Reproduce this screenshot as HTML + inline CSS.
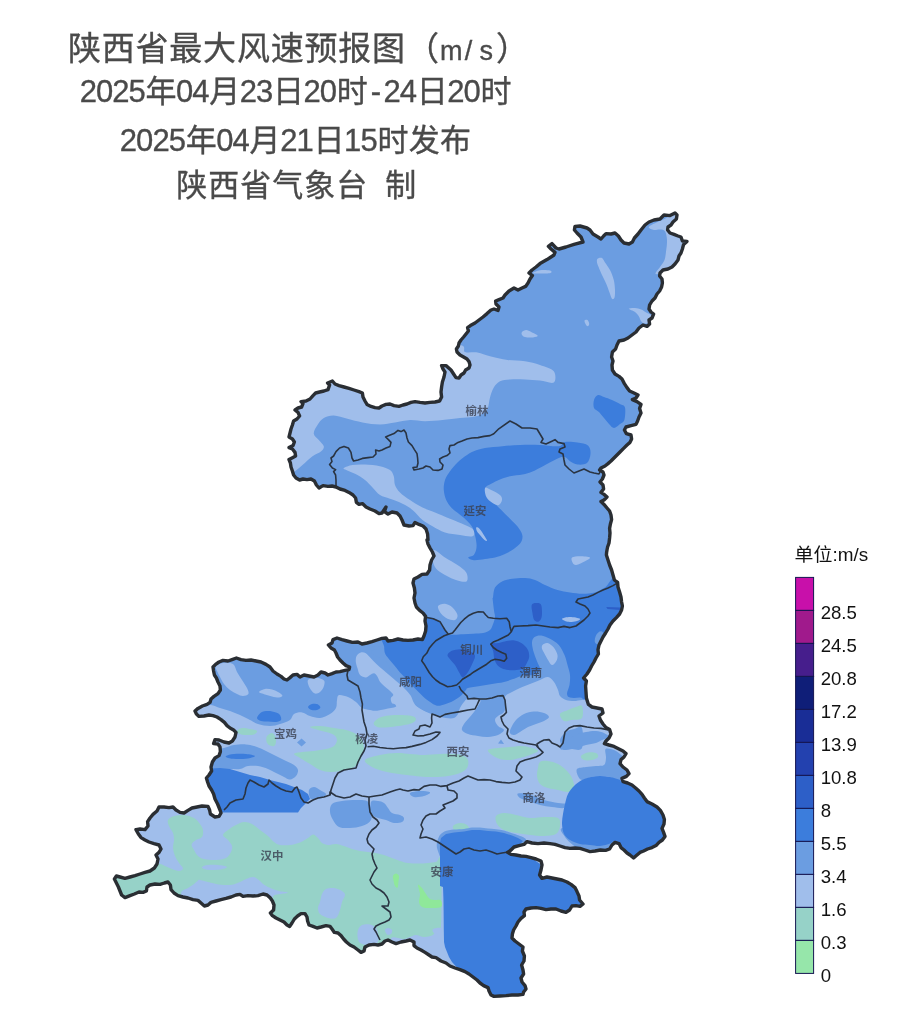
<!DOCTYPE html>
<html lang="zh"><head><meta charset="utf-8"><title>陕西省最大风速预报图</title>
<style>
html,body{margin:0;padding:0;background:#fff;}
svg{display:block}
text{font-family:"Liberation Sans","Noto Sans CJK SC",sans-serif;}
.t{font-size:30px;fill:#4a4a4a;stroke:#4a4a4a;stroke-width:0.35px;}
.lg{font-size:18.6px;fill:#111;}
.city{font-size:11.4px;fill:#3a4050;fill-opacity:0.8;font-weight:bold}
</style></head><body>
<svg width="900" height="1020" viewBox="0 0 900 1020">
<rect width="900" height="1020" fill="#fff"/>
<text class="t" style="font-size:33px" y="59.5" x="67.9 101.7 135.5 169.3 203.1 236.9 270.7 304.5 338.3 372.1 405.9">陕西省最大风速预报图（<tspan style="font-size:27px" x="440.0 464.7 479.6">m/s</tspan><tspan x="496.1">）</tspan></text>
<text class="t" style="font-size:31px" y="102.2" x="79.8 96.1 112.3 128.6 145.4 176.1 192.3 209.2 239.8 256.1 272.9 303.6 319.8 336.7 370.8 383.6 399.8 416.7 447.3 463.6 480.4">2025年04月23日20时-24日20时</text>
<text class="t" style="font-size:31px" y="151.3" x="119.8 136.1 152.4 168.7 185.7 216.3 232.6 249.6 280.2 296.5 313.5 344.1 360.4 377.4 408.7 440.0">2025年04月21日15时发布</text>
<text class="t" style="font-size:31px" y="196" x="176.3 208.3 240.3 272.3 304.3 336.3 372.0 385.3">陕西省气象台 制</text>
<defs><clipPath id="prov"><path d="M547,259.6 L551,257 L554,255 L555,252.4 L551,249 L548.4,246.4 L552,243.6 L556,248 L559,249 L566,247 L574,244.4 L583,242 L581,237 L577,233 L574.4,230 L575,226.4 L580,226 L587,228 L590,230 L593,234 L598,237 L601,239 L603.6,236 L606,233.6 L611,234 L615,233 L618.4,236 L621,240 L624,243 L629,244 L632.4,242 L634.4,238 L638,234 L641,230 L645,225 L649,222 L654,220 L660,219 L664,215 L670,215.6 L675,213 L677,215 L676.4,219 L673,222 L671,225 L668,227 L667.6,230 L670,233 L674,234.4 L678,236 L681,237 L682.4,241 L687,241.4 L683.6,244.4 L682.4,249 L681,253 L679,256 L678,260 L675,264 L672,267 L668,269 L663,270 L660,273 L659.6,276 L662,279 L662.4,283 L661.6,287 L659.6,291 L657,294 L655,298 L652,301 L649.6,305 L649,309 L651,312 L653.6,314 L652,318 L649,320 L649.6,324 L647,326.4 L643,325 L639,328 L636,332 L632,335 L628,338 L624,340 L619,341 L617,345 L615.6,349 L612.4,352 L611.6,357 L613,361 L612,365 L612.4,370 L615,374 L619,376.4 L622,379 L624.4,383.6 L627,387.6 L629.6,391 L634,393 L638,395 L636,398 L632.4,399.6 L637,401.6 L641,404.4 L639.6,408.4 L641,413 L639,417 L637.6,421 L636,424.4 L631,425.6 L626,427 L624.4,430 L626.4,433.6 L631,435 L631.6,439 L630,442.4 L627,445 L623.6,448.4 L620,452 L617,455 L614,458 L611,461 L608,463.6 L605,466 L601,468 L599.6,470 L603,472 L604,475 L602.4,479 L600,482 L603,485 L603.6,489 L601,492.4 L604,494.4 L607,497 L604,500 L601,501.6 L604,504.4 L607,508 L609.6,511 L611,515 L611.6,519.6 L610.4,524 L609.6,528.4 L610,533 L609.6,538 L609,543 L607.6,547 L607,550 L606.6,552.4 L606.4,555 L608,560 L609.6,565 L611.6,570 L613,575 L614.4,580 L617.6,582.4 L618,587 L619.6,592 L621,597 L621.6,602 L622.4,606 L621.6,610 L619.6,614 L616.4,617.6 L613,621 L610,625 L608,629 L605.6,633 L603,637 L601,641 L599,645 L598,649.6 L598.4,654 L596,658 L594,662 L591.6,666 L589.6,670 L587,674 L583.6,678 L586.4,681 L585.6,686 L586,692 L586.4,698 L587,700 L588.4,704.4 L592,707 L597,708 L602,709 L603,713 L599,716 L600.4,720 L603,724 L606,727.6 L609.6,729.6 L611,734 L609,738 L606,741 L604.4,743.6 L609,745 L614,746.4 L619,749 L623,751 L626,753.6 L624,757 L621,759.6 L620,763.6 L623,767 L627,770 L629,773.6 L626.4,776.4 L622,778.4 L623,781.6 L627.6,783 L632,785 L635.6,788 L639,791 L642,794.4 L644.4,798 L647,801.6 L652,804 L657,807 L660.4,810.4 L663,815 L664.4,819.6 L664,824 L662,828.4 L663.6,832.4 L665,836.4 L662.4,840 L659,842.4 L656,845.6 L652,847.6 L647.6,849 L643.6,851 L640,852.4 L636.4,855.6 L633.6,858 L630,855 L627,853 L624,850 L621,847.6 L619,843.6 L615,842.4 L612,845 L609.6,849 L605.6,850.4 L600.4,850 L595,851 L590,851.6 L585,850 L580,848.4 L575,848 L570,848.4 L565,847.6 L560,846 L555,844.4 L550,843.6 L544,843 L538,843.6 L532,843 L527,841.6 L524,844.4 L519,845.6 L514,847 L511,850 L507.6,852.4 L511,854.4 L516,855 L521,856 L526,856.4 L531,857.6 L536,859 L541,861 L542,865 L541,870 L539.6,875 L542,878.4 L547,877 L552,878 L557,879 L562,880 L567,882 L571,884.4 L575,887.6 L577,891.6 L579,896 L579.6,900 L583,904 L580,906.4 L576,905.6 L572,906 L569.6,910 L566,912.4 L561,911 L556,909 L551,909 L546,909.6 L541,908.4 L536,907.6 L531,908 L526,909 L524,912 L524.4,915.6 L521,918.4 L518,922 L516,926 L513.6,930 L512.4,934 L512,938 L515,941 L519,944 L523,947 L522.4,951 L524.4,956 L524,961 L521.6,965 L523,970 L523.6,974 L521,978 L522,982 L525,985.6 L526,989 L523.6,992 L523,994.4 L518,995 L512,995 L506,995.6 L500,996 L494,996.4 L491,995 L489,991 L488,987.6 L483.6,985.6 L480,983 L477,980 L473,977 L469,974 L465,971.6 L460,969.6 L455,968 L450,966 L446,963 L441,961 L436,957.6 L432,957 L429,955 L425,952.4 L421,950 L417,948 L414,945.6 L414,942 L410,940 L406,941 L401,942 L396,943.6 L392,942 L388,940 L385,941 L382,944 L378,945 L374,944.4 L369,945 L365,947 L364,951 L361,952.4 L358,950 L354,947 L350,945 L346.4,942 L343.6,939 L341,935.6 L338,933 L334.4,932.4 L332,929 L330,926.4 L326,925.6 L321,927 L317,928 L313,926.4 L309,925 L307.6,921 L307,917 L305,913.6 L301,913.6 L297.6,916 L294.4,919 L292,923 L289.6,926.4 L287,925 L284,922 L280,920 L276,918 L272.4,915.6 L270.4,913 L273.6,910 L274,905 L272.4,901 L270,897.6 L267,895 L263,894 L258,895.6 L253,896 L248,895.6 L243,896.4 L240,894.4 L236,895 L231,897 L226,898.4 L221,899.6 L216,901 L211,902.4 L208,905 L204.4,906 L201,903 L198,900.4 L193,899.6 L188,898 L183,897 L178,895.6 L174,893 L171,889.6 L170.4,885 L168,882 L164.4,883 L160,884.4 L155,884 L150,885 L147,887 L146.4,891 L143,892.4 L139,892 L134.4,894 L130,895.6 L125,897.6 L121.6,895 L120,891 L118.4,887 L116.4,883 L114.4,879 L116.4,876 L120,877 L125,878.4 L130,877 L135,875.6 L140,874 L145,872.4 L150,871 L154.4,868 L157,864 L158,859 L156,855 L159,852.4 L161,849 L159,845 L154,843.6 L149,842 L145,840 L141,837.6 L138.4,834 L136,829.6 L140,829 L145,829.6 L148,826 L147.6,821.6 L150,818 L153,814.4 L157,811 L159,807 L164,807 L169,807.6 L173,807 L176,810 L180,812.4 L184,813 L188,810.4 L192,808 L197,807 L202,806 L208,806.4 L209.6,810 L210.4,814 L215,817 L219,816.4 L221,813 L220,810 L217.6,804 L215,799 L213.6,794 L211.6,790 L209,786 L207.6,782 L206.4,778 L209,775 L211.6,771 L211,767 L212.4,762 L215,758 L219,755.6 L220.4,751.6 L220,747 L218,744 L213.6,743.6 L215,739.6 L219,740 L224,742 L229,743 L232.4,741 L235,737 L236,732.4 L233.6,730 L230,728 L227,725.6 L224.4,722.4 L221,719.6 L217,717 L213,715.6 L209,715 L204,716 L199,716.4 L196.4,714 L195,711 L198,708.4 L202.4,706 L207,704.4 L210,702.4 L211,699 L214,696.4 L218,693.6 L220.4,690 L220,686 L218,682 L216.4,678 L214.4,675 L213.6,671 L213,667 L215.6,664.4 L219,662 L223,660.4 L228,661 L232,659.6 L236.4,658 L241,659.6 L246,660.4 L251,660 L256,661 L261,662 L266,664.4 L270,667 L273,671 L277,674 L281,676.4 L284,679 L287,680 L290,677.6 L293,675 L297,674.4 L300,677 L304,675 L309,676 L314,677 L318,675 L321,672 L325,673 L328,675 L332,673.6 L336,672 L340,671.6 L345,670.4 L349,669.6 L349.6,667 L346,665.6 L343,663 L340,660 L337.6,657 L336,653 L334.4,650 L331,648 L328.4,645 L332,643 L333,639.6 L337,638 L342,639.6 L347,641 L352.4,642.4 L358,642 L362,644 L367,643 L372,641.6 L377,640 L382,638.4 L386,638 L388,641 L393,640.4 L398,639 L403,640 L408,640.4 L413,640 L418,639 L422.4,639.6 L424,636 L425.6,631 L426,626 L425,621 L425.6,616.4 L423,613 L419.6,610.4 L416.4,607 L415,603 L414,598 L415,593 L414.4,588 L413,583 L414,579 L418,577 L422,574.4 L427,574 L429.6,570 L430,565 L431.6,560 L434,556 L432.4,552 L430,548 L428,544 L427,540 L428,540 L427.6,534 L426,529 L423,526 L419,524.4 L415,522.4 L413,525.6 L409,526 L404,525 L402,520 L400,516 L397,513 L392,512 L388,514 L384.4,511.6 L386,507 L382,513 L379,513.6 L375,511 L370,509 L366,507 L362.4,503.6 L359,504.4 L356.4,502.4 L355.6,498 L353,495 L349,492.4 L345,490.4 L340,489 L336,487 L332,486 L328,486.4 L323,485.6 L319,488 L316.4,485 L314.4,481 L311,479 L307,479.6 L303,479 L299.6,480 L296,478 L293.6,475 L292.4,471 L291,467 L290.4,463 L289,459.6 L292,458 L295.6,456 L295,452.4 L292.4,449 L289,447.6 L293,445.6 L294.4,442 L292.4,439 L289,437 L290,433 L291,429 L292.4,425 L293.6,421 L297,419 L299.6,416 L298,412.4 L295,410 L298,408 L301.6,407 L303,403.6 L301,401.6 L306,401 L310,399 L313,395.6 L315.6,393 L319.6,392 L324,391 L328,389.6 L329.6,385 L327.6,383 L332.4,381 L335,384 L339,385.6 L344,387 L349,388.4 L354,390 L359,391.6 L362.4,393 L363,397 L365,401 L367,404.4 L371,406.4 L375,407.6 L379,408 L382,406 L386,404.4 L390,404 L394,405.6 L399,406.4 L403,405 L407,404 L411,402.4 L415,401.6 L420,402.4 L425,403 L430,402.4 L435,402 L439.6,401 L441.6,397 L441,392 L441.6,387 L442.4,382 L444,377 L445,372 L443,369 L441.6,365.6 L446,365.6 L451,370 L453.6,374 L456,377.6 L459,378 L461,375 L464,373 L465.6,370 L469,368 L470,365 L469,361.6 L467,359 L463.6,357 L460,355 L457,352 L456.4,349 L458.4,346 L459,343 L461,340 L463.6,337 L466,334 L468.4,331 L467.6,327.6 L470.4,325.6 L475,323 L479,320 L483,317 L487,313.6 L491,310 L494,309 L498,310.4 L499,307 L496,304 L495.6,301 L499,299.6 L503,298 L505,295 L509,291 L514,288 L518,290 L522,288 L525.6,286.4 L528,283 L530,279 L532.4,275.6 L529,273 L532,270 L536,267 L540,263.6Z"/></clipPath></defs>
<g clip-path="url(#prov)">
<rect x="100" y="200" width="600" height="810" fill="#6b9de1"/>
<path d="M90,650 L700,650 L700,1010 L90,1010Z" fill="#a0beeb"/>
<path d="M648.8,227.0C649.4,225.7 654.8,223.4 657.5,222.0C660.2,220.6 661.9,220.5 665.0,218.8C668.1,217.0 672.1,211.9 676.2,211.2C680.4,210.6 687.7,207.3 690.0,215.0C692.3,222.7 692.9,248.5 690.0,257.5C687.1,266.5 677.1,266.2 672.5,268.8C667.9,271.2 665.3,271.7 662.5,272.5C659.7,273.3 655.8,274.8 655.5,273.8C655.2,272.7 659.0,268.5 660.5,266.2C662.0,264.0 663.5,262.7 664.5,260.0C665.5,257.3 665.8,253.3 666.2,250.0C666.7,246.7 667.2,243.1 667.0,240.0C666.8,236.9 666.2,233.0 665.0,231.2C663.8,229.5 661.9,229.7 660.0,229.5C658.1,229.3 655.6,230.4 653.8,230.0C651.9,229.6 648.1,228.3 648.8,227.0Z" fill="#a0beeb"/>
<path d="M597.5,258.8C598.3,258.0 600.8,257.4 602.0,258.0C603.2,258.6 603.7,260.5 605.0,262.5C606.3,264.5 608.5,267.1 610.0,270.0C611.5,272.9 612.9,276.7 613.8,280.0C614.6,283.3 614.9,287.1 615.0,290.0C615.1,292.9 615.0,296.0 614.5,297.5C614.0,299.0 612.8,299.6 612.0,298.8C611.2,297.9 610.5,295.0 609.5,292.5C608.5,290.0 607.5,286.7 606.2,283.8C605.0,280.8 603.2,277.7 602.0,275.0C600.8,272.3 599.6,269.6 598.8,267.5C597.9,265.4 597.2,264.0 597.0,262.5C596.8,261.0 596.7,259.5 597.5,258.8Z" fill="#a0beeb"/>
<path d="M628.8,308.8C628.8,308.1 632.9,307.9 635.0,308.0C637.1,308.1 639.4,308.8 641.2,309.5C643.1,310.2 644.6,311.5 646.2,312.5C647.9,313.5 650.4,314.0 651.2,315.5C652.1,317.0 652.3,319.9 651.2,321.2C650.2,322.6 646.7,323.5 645.0,323.5C643.3,323.5 642.3,322.5 641.2,321.2C640.2,320.0 639.8,317.8 638.8,316.2C637.7,314.7 636.7,313.2 635.0,312.0C633.3,310.8 628.8,309.4 628.8,308.8Z" fill="#a0beeb"/>
<path d="M584.5,320.5C584.8,319.8 586.7,319.5 587.5,320.0C588.3,320.5 589.2,322.7 589.2,323.8C589.3,324.8 588.6,326.1 588.0,326.2C587.4,326.4 586.3,325.5 585.8,324.5C585.2,323.5 584.2,321.2 584.5,320.5Z" fill="#a0beeb"/>
<path d="M522.0,332.0C522.7,331.2 524.7,330.0 526.2,330.0C527.8,330.0 529.6,331.2 531.2,332.0C532.9,332.8 535.2,333.8 536.2,334.5C537.3,335.2 538.3,335.8 537.5,336.2C536.7,336.8 533.3,337.4 531.2,337.5C529.2,337.6 526.5,337.4 525.0,337.0C523.5,336.6 522.5,335.8 522.0,335.0C521.5,334.2 521.3,332.8 522.0,332.0Z" fill="#a0beeb"/>
<path d="M532.5,273.0C532.5,272.5 537.1,270.7 540.0,270.2C542.9,269.8 548.2,270.0 550.0,270.5C551.8,271.0 552.2,272.5 550.5,273.0C548.8,273.5 543.0,273.5 540.0,273.5C537.0,273.5 532.5,273.5 532.5,273.0Z" fill="#a0beeb"/>
<path d="M285.0,477.5C287.5,476.5 292.1,473.3 295.0,471.2C297.9,469.2 299.6,467.5 302.5,465.0C305.4,462.5 309.4,458.5 312.5,456.2C315.6,454.0 319.4,452.9 321.2,451.2C323.1,449.6 324.2,448.1 323.8,446.2C323.3,444.4 320.4,442.1 318.8,440.0C317.1,437.9 314.0,436.2 313.8,433.8C313.5,431.2 315.8,427.6 317.5,425.0C319.2,422.4 321.0,419.6 323.8,418.0C326.5,416.4 329.8,415.4 333.8,415.5C337.7,415.6 342.7,417.6 347.5,418.8C352.3,419.9 357.1,421.5 362.5,422.5C367.9,423.5 374.6,424.5 380.0,424.5C385.4,424.5 390.0,423.2 395.0,422.5C400.0,421.8 405.0,420.2 410.0,420.0C415.0,419.8 419.6,421.2 425.0,421.2C430.4,421.2 436.7,420.5 442.5,420.0C448.3,419.5 455.0,418.5 460.0,418.0C465.0,417.5 469.0,417.6 472.5,417.0C476.0,416.4 478.8,415.9 481.2,414.5C483.8,413.1 486.0,411.6 487.5,408.8C489.0,405.9 489.0,401.0 490.0,397.5C491.0,394.0 492.1,390.2 493.8,387.5C495.4,384.8 497.3,382.6 500.0,381.2C502.7,379.9 505.8,379.8 510.0,379.5C514.2,379.2 520.0,379.3 525.0,379.5C530.0,379.7 535.2,380.0 540.0,380.5C544.8,381.0 551.5,384.0 553.8,382.5C556.0,381.0 556.0,374.2 553.8,371.2C551.5,368.3 544.8,366.7 540.0,365.0C535.2,363.3 530.4,362.1 525.0,361.2C519.6,360.4 513.3,360.8 507.5,360.0C501.7,359.2 495.0,357.5 490.0,356.2C485.0,355.0 481.7,353.2 477.5,352.5C473.3,351.8 467.9,353.2 465.0,352.0C462.1,350.8 467.5,346.2 460.0,345.0C452.5,343.8 426.7,338.3 420.0,345.0C413.3,351.7 430.8,381.7 420.0,385.0C409.2,388.3 374.2,367.5 355.0,365.0C335.8,362.5 317.5,362.5 305.0,370.0C292.5,377.5 284.2,392.1 280.0,410.0C275.8,427.9 279.2,466.2 280.0,477.5C280.8,488.8 282.5,478.5 285.0,477.5Z" fill="#a0beeb"/>
<path d="M343.8,468.0C344.8,467.2 349.0,465.6 352.5,465.0C356.0,464.4 360.4,464.3 365.0,464.5C369.6,464.7 375.8,465.3 380.0,466.2C384.2,467.2 387.7,468.3 390.0,470.0C392.3,471.7 392.9,473.8 393.8,476.2C394.6,478.8 394.0,482.3 395.0,485.0C396.0,487.7 397.5,490.0 400.0,492.5C402.5,495.0 406.2,497.5 410.0,500.0C413.8,502.5 418.3,505.4 422.5,507.5C426.7,509.6 430.4,510.6 435.0,512.5C439.6,514.4 445.0,516.7 450.0,518.8C455.0,520.8 461.0,523.1 465.0,525.0C469.0,526.9 472.5,528.1 473.8,530.0C475.0,531.9 474.8,535.4 472.5,536.2C470.2,537.1 464.6,535.6 460.0,535.0C455.4,534.4 449.6,534.0 445.0,532.5C440.4,531.0 436.2,528.3 432.5,526.2C428.8,524.2 425.8,522.7 422.5,520.0C419.2,517.3 415.8,512.7 412.5,510.0C409.2,507.3 406.2,505.6 402.5,503.8C398.8,501.9 393.8,500.2 390.0,498.8C386.2,497.3 382.9,496.9 380.0,495.0C377.1,493.1 375.0,490.0 372.5,487.5C370.0,485.0 367.9,482.3 365.0,480.0C362.1,477.7 358.1,475.4 355.0,473.8C351.9,472.1 348.1,471.0 346.2,470.0C344.4,469.0 342.7,468.8 343.8,468.0Z" fill="#a0beeb"/>
<path d="M572.0,557.5C573.2,556.5 577.0,556.2 580.0,556.2C583.0,556.2 589.2,556.7 590.0,557.5C590.8,558.3 587.3,560.0 585.0,561.2C582.7,562.5 578.3,564.8 576.2,565.0C574.2,565.2 573.2,563.8 572.5,562.5C571.8,561.2 570.8,558.5 572.0,557.5Z" fill="#a0beeb"/>
<path d="M433.8,550.0C435.8,549.6 441.0,555.0 445.0,557.5C449.0,560.0 454.0,562.5 457.5,565.0C461.0,567.5 464.7,569.8 466.2,572.5C467.8,575.2 468.2,579.9 466.8,581.2C465.3,582.6 461.1,581.5 457.5,580.5C453.9,579.5 448.5,577.0 445.0,575.0C441.5,573.0 438.3,571.2 436.2,568.8C434.2,566.2 432.9,563.1 432.5,560.0C432.1,556.9 431.7,550.4 433.8,550.0Z" fill="#a0beeb"/>
<path d="M438.0,606.2C438.6,604.6 442.6,603.5 445.0,603.8C447.4,604.0 450.4,605.6 452.5,607.5C454.6,609.4 457.1,612.9 457.5,615.0C457.9,617.1 456.7,619.4 455.0,620.0C453.3,620.6 449.8,619.8 447.5,618.8C445.2,617.7 442.8,615.8 441.2,613.8C439.7,611.7 437.4,607.9 438.0,606.2Z" fill="#a0beeb"/>
<path d="M202.0,705.0C204.2,709.2 208.0,704.5 211.0,705.0C214.0,705.5 216.8,707.0 220.0,708.0C223.2,709.0 226.7,709.8 230.0,711.0C233.3,712.2 236.7,713.5 240.0,715.0C243.3,716.5 247.0,718.5 250.0,720.0C253.0,721.5 254.7,723.0 258.0,724.0C261.3,725.0 266.3,726.0 270.0,726.0C273.7,726.0 276.7,725.0 280.0,724.0C283.3,723.0 287.7,721.7 290.0,720.0C292.3,718.3 292.0,715.3 294.0,714.0C296.0,712.7 299.3,712.1 302.0,712.4C304.7,712.7 307.0,715.1 310.0,716.0C313.0,716.9 316.7,718.3 320.0,718.0C323.3,717.7 327.3,715.7 330.0,714.0C332.7,712.3 334.8,710.3 336.0,708.0C337.2,705.7 336.5,702.2 337.0,700.0C337.5,697.8 337.2,695.5 339.0,695.0C340.8,694.5 345.2,695.8 348.0,697.0C350.8,698.2 353.7,700.2 356.0,702.0C358.3,703.8 359.7,706.7 362.0,708.0C364.3,709.3 367.8,709.5 370.0,710.0C372.2,710.5 372.5,710.9 375.0,710.8C377.5,710.7 381.4,709.9 385.0,709.2C388.6,708.5 393.6,708.1 396.4,706.6C399.2,705.1 399.7,702.8 402.0,700.0C404.3,697.2 408.7,698.3 410.0,690.0C411.3,681.7 443.3,656.7 410.0,650.0C376.7,643.3 245.3,645.0 210.0,650.0C174.7,655.0 199.3,670.8 198.0,680.0C196.7,689.2 199.8,700.8 202.0,705.0Z" fill="#6b9de1"/>
<path d="M297,742.4 L301.6,738.6 L306,742.4 L301.6,746.4Z" fill="#6b9de1"/>
<path d="M214.0,750.0C216.7,748.7 220.7,748.8 224.0,748.0C227.3,747.2 230.3,745.6 234.0,745.0C237.7,744.4 242.7,744.2 246.0,744.4C249.3,744.6 251.0,745.1 254.0,746.0C257.0,746.9 260.7,748.5 264.0,750.0C267.3,751.5 270.7,753.3 274.0,755.0C277.3,756.7 280.7,758.3 284.0,760.0C287.3,761.7 291.7,763.3 294.0,765.0C296.3,766.7 297.7,768.2 298.0,770.0C298.3,771.8 297.3,774.4 296.0,776.0C294.7,777.6 292.0,779.4 290.0,779.6C288.0,779.8 286.3,778.1 284.0,777.0C281.7,775.9 278.7,774.3 276.0,773.0C273.3,771.7 271.0,770.2 268.0,769.0C265.0,767.8 261.3,766.5 258.0,766.0C254.7,765.5 251.0,765.5 248.0,766.0C245.0,766.5 243.0,768.5 240.0,769.0C237.0,769.5 233.3,769.0 230.0,769.0C226.7,769.0 223.7,769.2 220.0,769.0C216.3,768.8 210.0,770.2 208.0,768.0C206.0,765.8 207.0,759.0 208.0,756.0C209.0,753.0 211.3,751.3 214.0,750.0Z" fill="#6b9de1"/>
<path d="M309.0,790.0C309.7,788.2 312.2,787.0 314.0,787.0C315.8,787.0 318.0,788.8 320.0,790.0C322.0,791.2 325.7,792.7 326.0,794.0C326.3,795.3 324.0,797.2 322.0,798.0C320.0,798.8 316.0,799.0 314.0,799.0C312.0,799.0 310.8,799.5 310.0,798.0C309.2,796.5 308.3,791.8 309.0,790.0Z" fill="#6b9de1"/>
<path d="M332.0,804.0C334.0,802.2 338.0,801.7 342.0,801.0C346.0,800.3 351.8,800.0 356.0,800.0C360.2,800.0 364.5,799.7 367.0,801.0C369.5,802.3 370.3,804.8 371.0,808.0C371.7,811.2 372.5,817.0 371.0,820.0C369.5,823.0 365.5,824.7 362.0,826.0C358.5,827.3 353.8,827.8 350.0,828.0C346.2,828.2 341.8,828.3 339.0,827.0C336.2,825.7 334.5,822.5 333.0,820.0C331.5,817.5 330.2,814.7 330.0,812.0C329.8,809.3 330.0,805.8 332.0,804.0Z" fill="#6b9de1"/>
<path d="M388.0,648.0C350.7,650.7 386.0,657.0 388.0,664.0C390.0,671.0 396.3,684.0 400.0,690.0C403.7,696.0 407.3,697.3 410.0,700.0C412.7,702.7 413.7,704.2 416.0,706.0C418.3,707.8 421.0,709.5 424.0,711.0C427.0,712.5 430.3,713.8 434.0,715.0C437.7,716.2 442.7,717.5 446.0,718.0C449.3,718.5 452.0,718.7 454.0,718.0C456.0,717.3 457.0,715.7 458.0,714.0C459.0,712.3 459.0,710.0 460.0,708.0C461.0,706.0 462.7,703.5 464.0,702.0C465.3,700.5 465.3,699.3 468.0,699.0C470.7,698.7 478.3,698.8 480.0,700.0C481.7,701.2 479.0,704.0 478.0,706.0C477.0,708.0 475.5,710.0 474.0,712.0C472.5,714.0 470.7,716.0 469.0,718.0C467.3,720.0 465.2,722.0 464.0,724.0C462.8,726.0 461.3,728.3 462.0,730.0C462.7,731.7 465.3,733.0 468.0,734.0C470.7,735.0 474.7,735.5 478.0,736.0C481.3,736.5 484.7,737.2 488.0,737.0C491.3,736.8 495.3,736.2 498.0,735.0C500.7,733.8 504.0,731.5 504.0,730.0C504.0,728.5 499.5,727.7 498.0,726.0C496.5,724.3 495.0,721.7 495.0,720.0C495.0,718.3 496.5,717.3 498.0,716.0C499.5,714.7 502.7,714.0 504.0,712.0C505.3,710.0 505.8,706.6 506.0,704.0C506.2,701.4 504.0,698.4 505.0,696.4C506.0,694.4 509.5,693.4 512.0,692.0C514.5,690.6 517.0,689.3 520.0,688.0C523.0,686.7 526.7,685.3 530.0,684.0C533.3,682.7 537.0,681.2 540.0,680.0C543.0,678.8 545.7,676.7 548.0,677.0C550.3,677.3 552.3,679.8 554.0,682.0C555.7,684.2 557.0,687.7 558.0,690.0C559.0,692.3 558.7,694.3 560.0,696.0C561.3,697.7 563.7,699.2 566.0,700.0C568.3,700.8 571.3,701.0 574.0,701.0C576.7,701.0 579.0,700.3 582.0,700.0C585.0,699.7 587.0,699.2 592.0,699.0C597.0,698.8 608.7,707.5 612.0,699.0C615.3,690.5 649.3,656.5 612.0,648.0C574.7,639.5 425.3,645.3 388.0,648.0Z" fill="#6b9de1"/>
<path d="M511.0,728.0C512.0,725.8 513.8,722.3 516.0,720.0C518.2,717.7 521.0,715.4 524.0,714.0C527.0,712.6 530.7,711.8 534.0,711.6C537.3,711.4 541.5,712.1 544.0,713.0C546.5,713.9 549.0,715.7 549.0,717.0C549.0,718.3 546.2,719.8 544.0,721.0C541.8,722.2 538.7,723.0 536.0,724.0C533.3,725.0 530.7,725.7 528.0,727.0C525.3,728.3 522.3,730.7 520.0,732.0C517.7,733.3 515.7,734.8 514.0,735.0C512.3,735.2 510.5,734.2 510.0,733.0C509.5,731.8 510.0,730.2 511.0,728.0Z" fill="#6b9de1"/>
<path d="M498,743.6 L501,739.6 L504,744Z" fill="#6b9de1"/>
<path d="M560.0,740.0C560.3,737.5 563.7,733.8 566.0,732.0C568.3,730.2 571.3,729.7 574.0,729.0C576.7,728.3 580.7,724.8 582.0,728.0C583.3,731.2 583.7,744.5 582.0,748.0C580.3,751.5 575.0,749.2 572.0,749.0C569.0,748.8 566.0,748.5 564.0,747.0C562.0,745.5 559.7,742.5 560.0,740.0Z" fill="#6b9de1"/>
<path d="M410.0,793.0C411.0,792.0 416.7,791.1 420.0,791.0C423.3,790.9 429.3,791.6 430.0,792.4C430.7,793.2 426.7,795.2 424.0,796.0C421.3,796.8 416.3,797.5 414.0,797.0C411.7,796.5 409.0,794.0 410.0,793.0Z" fill="#6b9de1"/>
<path d="M518.0,793.6C519.7,793.0 525.7,793.3 530.0,794.4C534.3,795.5 539.3,798.6 544.0,800.0C548.7,801.4 554.3,802.3 558.0,803.0C561.7,803.7 565.0,803.2 566.0,804.0C567.0,804.8 566.3,807.5 564.0,808.0C561.7,808.5 556.0,807.5 552.0,807.0C548.0,806.5 544.0,806.0 540.0,805.0C536.0,804.0 531.3,802.2 528.0,801.0C524.7,799.8 521.7,799.2 520.0,798.0C518.3,796.8 516.3,794.2 518.0,793.6Z" fill="#6b9de1"/>
<path d="M371.0,802.0C372.0,799.8 375.8,800.8 378.0,801.0C380.2,801.2 382.3,801.8 384.0,803.0C385.7,804.2 386.7,806.3 388.0,808.0C389.3,809.7 390.0,811.8 392.0,813.0C394.0,814.2 398.0,814.2 400.0,815.0C402.0,815.8 403.7,816.8 404.0,818.0C404.3,819.2 403.7,821.2 402.0,822.0C400.3,822.8 396.7,823.3 394.0,823.0C391.3,822.7 388.7,820.8 386.0,820.0C383.3,819.2 380.3,819.0 378.0,818.0C375.7,817.0 373.2,816.7 372.0,814.0C370.8,811.3 370.0,804.2 371.0,802.0Z" fill="#6b9de1"/>
<path d="M411.0,793.0C411.7,792.4 416.8,791.7 420.0,791.6C423.2,791.5 429.3,791.8 430.0,792.4C430.7,793.0 426.3,794.6 424.0,795.0C421.7,795.4 418.2,795.3 416.0,795.0C413.8,794.7 410.3,793.6 411.0,793.0Z" fill="#6b9de1"/>
<path d="M577.0,769.0C578.3,767.5 582.8,767.5 586.0,767.0C589.2,766.5 593.0,766.3 596.0,766.0C599.0,765.7 602.3,766.3 604.0,765.0C605.7,763.7 605.7,760.7 606.0,758.0C606.3,755.3 604.3,750.3 605.6,749.0C606.9,747.7 611.6,749.2 614.0,750.0C616.4,750.8 617.3,751.7 620.0,754.0C622.7,756.3 628.3,759.0 630.0,764.0C631.7,769.0 633.3,781.8 630.0,784.0C626.7,786.2 615.0,778.3 610.0,777.0C605.0,775.7 603.2,776.0 600.0,776.0C596.8,776.0 594.0,776.3 591.0,777.0C588.0,777.7 584.2,780.2 582.0,780.0C579.8,779.8 578.8,777.8 578.0,776.0C577.2,774.2 575.7,770.5 577.0,769.0Z" fill="#6b9de1"/>
<path d="M560.0,748.0C560.3,746.3 565.3,742.2 568.0,740.0C570.7,737.8 573.0,736.3 576.0,735.0C579.0,733.7 582.7,732.7 586.0,732.0C589.3,731.3 593.0,730.8 596.0,731.0C599.0,731.2 601.8,732.0 604.0,733.0C606.2,734.0 609.3,735.8 609.0,737.0C608.7,738.2 604.2,739.0 602.0,740.0C599.8,741.0 598.7,742.2 596.0,743.0C593.3,743.8 589.3,744.2 586.0,745.0C582.7,745.8 579.3,747.2 576.0,748.0C572.7,748.8 568.7,750.0 566.0,750.0C563.3,750.0 559.7,749.7 560.0,748.0Z" fill="#6b9de1"/>
<path d="M216.0,666.0C217.0,664.7 220.2,663.3 223.0,663.0C225.8,662.7 230.7,662.5 233.0,664.0C235.3,665.5 235.5,669.3 237.0,672.0C238.5,674.7 240.3,677.3 242.0,680.0C243.7,682.7 245.9,685.7 247.0,688.0C248.1,690.3 249.1,692.7 248.4,694.0C247.7,695.3 244.9,696.0 243.0,696.0C241.1,696.0 239.2,695.0 237.0,694.0C234.8,693.0 232.2,691.7 230.0,690.0C227.8,688.3 225.7,686.2 224.0,684.0C222.3,681.8 221.2,679.2 220.0,677.0C218.8,674.8 217.7,672.8 217.0,671.0C216.3,669.2 215.0,667.3 216.0,666.0Z" fill="#a0beeb"/>
<path d="M259.0,692.0C259.0,691.1 262.8,689.4 265.0,689.0C267.2,688.6 269.8,689.1 272.0,689.6C274.2,690.1 276.3,691.0 278.0,692.0C279.7,693.0 282.2,694.7 282.4,695.6C282.6,696.5 280.7,697.5 279.0,697.6C277.3,697.7 274.3,696.9 272.0,696.4C269.7,695.9 267.2,695.1 265.0,694.4C262.8,693.7 259.0,692.9 259.0,692.0Z" fill="#a0beeb"/>
<path d="M308.0,680.0C308.8,678.8 311.0,678.3 313.0,678.0C315.0,677.7 318.1,677.9 320.0,678.4C321.9,678.9 323.8,679.6 324.4,681.0C325.0,682.4 324.3,685.2 323.6,687.0C322.9,688.8 321.4,690.9 320.0,692.0C318.6,693.1 316.5,693.9 315.0,693.6C313.5,693.3 312.1,691.4 311.0,690.0C309.9,688.6 308.9,686.7 308.4,685.0C307.9,683.3 307.2,681.2 308.0,680.0Z" fill="#a0beeb"/>
<path d="M356.7,655.8C357.5,654.3 359.3,652.9 360.8,652.5C362.4,652.1 364.2,652.4 365.8,653.3C367.5,654.3 369.0,656.5 370.8,658.3C372.6,660.1 374.6,662.2 376.7,664.2C378.8,666.1 381.1,668.1 383.3,670.0C385.6,671.9 387.9,674.0 390.0,675.8C392.1,677.6 393.9,679.2 395.8,680.8C397.8,682.5 399.9,684.2 401.7,685.8C403.5,687.5 405.1,689.2 406.7,690.8C408.2,692.5 409.7,694.0 410.8,695.8C411.9,697.6 412.4,699.9 413.3,701.7C414.3,703.5 415.0,705.1 416.7,706.7C418.3,708.2 421.1,709.6 423.3,710.8C425.6,712.1 427.5,713.1 430.0,714.2C432.5,715.3 435.6,716.7 438.3,717.5C441.1,718.3 445.3,717.6 446.7,719.2C448.1,720.7 455.0,725.4 446.7,726.7C438.3,727.9 405.1,730.0 396.7,726.7C388.3,723.3 397.1,710.6 396.3,706.7C395.6,702.8 392.9,704.7 392.0,703.3C391.1,701.9 390.6,699.7 390.8,698.3C391.1,696.9 393.3,696.1 393.3,695.0C393.3,693.9 392.2,693.1 390.8,691.7C389.4,690.3 386.8,688.3 385.0,686.7C383.2,685.0 381.2,683.3 380.0,681.7C378.8,680.0 378.5,678.1 377.5,676.7C376.5,675.3 375.4,673.6 374.2,673.3C372.9,673.1 371.4,674.3 370.0,675.0C368.6,675.7 367.5,677.5 365.8,677.5C364.2,677.5 361.4,676.5 360.0,675.0C358.6,673.5 358.2,670.6 357.5,668.3C356.8,666.1 356.0,663.8 355.8,661.7C355.7,659.6 355.8,657.4 356.7,655.8Z" fill="#a0beeb"/>
<path d="M237.0,731.0C237.3,730.0 239.8,728.3 242.0,728.0C244.2,727.7 247.5,728.5 250.0,729.0C252.5,729.5 256.3,730.1 257.0,731.0C257.7,731.9 255.8,733.7 254.0,734.4C252.2,735.1 248.3,735.1 246.0,735.0C243.7,734.9 241.5,734.7 240.0,734.0C238.5,733.3 236.7,732.0 237.0,731.0Z" fill="#96d2c8"/>
<path d="M267.0,736.0C267.9,734.7 270.7,733.0 272.0,733.0C273.3,733.0 274.3,734.5 275.0,736.0C275.7,737.5 276.2,740.3 276.0,742.0C275.8,743.7 275.2,745.5 274.0,746.0C272.8,746.5 270.3,745.8 269.0,745.0C267.7,744.2 266.7,742.5 266.4,741.0C266.1,739.5 266.1,737.3 267.0,736.0Z" fill="#96d2c8"/>
<path d="M310.0,727.0C310.3,726.3 316.0,725.8 320.0,726.0C324.0,726.2 329.7,727.3 334.0,728.0C338.3,728.7 342.3,729.0 346.0,730.0C349.7,731.0 353.3,732.3 356.0,734.0C358.7,735.7 360.7,737.7 362.0,740.0C363.3,742.3 364.0,745.3 364.0,748.0C364.0,750.7 363.0,753.3 362.0,756.0C361.0,758.7 360.0,761.8 358.0,764.0C356.0,766.2 353.0,767.8 350.0,769.0C347.0,770.2 343.3,770.5 340.0,771.0C336.7,771.5 333.3,772.2 330.0,772.0C326.7,771.8 323.3,771.3 320.0,770.0C316.7,768.7 313.3,766.0 310.0,764.0C306.7,762.0 302.7,759.7 300.0,758.0C297.3,756.3 293.7,755.0 294.0,754.0C294.3,753.0 298.7,752.5 302.0,752.0C305.3,751.5 310.0,751.5 314.0,751.0C318.0,750.5 322.7,749.8 326.0,749.0C329.3,748.2 332.2,747.5 334.0,746.0C335.8,744.5 337.0,741.8 337.0,740.0C337.0,738.2 335.8,736.3 334.0,735.0C332.2,733.7 328.7,732.8 326.0,732.0C323.3,731.2 320.7,730.8 318.0,730.0C315.3,729.2 309.7,727.7 310.0,727.0Z" fill="#96d2c8"/>
<path d="M373.7,723.3C373.9,721.9 376.2,719.6 378.3,718.3C380.5,717.1 383.6,716.4 386.7,715.8C389.7,715.3 393.3,715.1 396.7,715.0C400.0,714.9 403.8,715.1 406.7,715.3C409.6,715.6 412.6,715.9 414.2,716.7C415.7,717.4 416.2,718.9 415.8,720.0C415.4,721.1 413.8,722.4 411.7,723.3C409.6,724.2 406.4,724.8 403.3,725.3C400.3,725.9 396.7,726.3 393.3,726.7C390.0,727.0 386.1,727.5 383.3,727.5C380.6,727.5 378.3,727.4 376.7,726.7C375.1,726.0 373.4,724.7 373.7,723.3Z" fill="#96d2c8"/>
<path d="M365.0,760.0C366.3,758.0 374.7,756.2 380.0,755.0C385.3,753.8 392.0,753.2 397.0,753.0C402.0,752.8 405.5,753.7 410.0,754.0C414.5,754.3 419.0,755.0 424.0,755.0C429.0,755.0 435.3,754.2 440.0,754.0C444.7,753.8 448.3,753.8 452.0,754.0C455.7,754.2 459.3,754.0 462.0,755.0C464.7,756.0 467.2,757.8 468.0,760.0C468.8,762.2 468.3,765.8 467.0,768.0C465.7,770.2 463.2,771.7 460.0,773.0C456.8,774.3 452.3,775.3 448.0,776.0C443.7,776.7 438.7,776.9 434.0,777.0C429.3,777.1 424.5,776.7 420.0,776.4C415.5,776.1 412.5,775.7 407.0,775.0C401.5,774.3 392.8,773.3 387.0,772.0C381.2,770.7 375.7,769.0 372.0,767.0C368.3,765.0 363.7,762.0 365.0,760.0Z" fill="#96d2c8"/>
<path d="M488.0,750.0C489.0,748.8 494.3,748.5 498.0,748.0C501.7,747.5 506.0,747.3 510.0,747.0C514.0,746.7 518.3,745.8 522.0,746.0C525.7,746.2 529.3,747.2 532.0,748.0C534.7,748.8 538.3,749.8 538.0,751.0C537.7,752.2 533.0,753.8 530.0,755.0C527.0,756.2 523.3,757.2 520.0,758.0C516.7,758.8 513.3,759.8 510.0,760.0C506.7,760.2 503.0,759.8 500.0,759.0C497.0,758.2 494.0,756.5 492.0,755.0C490.0,753.5 487.0,751.2 488.0,750.0Z" fill="#96d2c8"/>
<path d="M560.0,714.0C560.7,712.2 565.3,711.2 568.0,710.0C570.7,708.8 573.7,707.7 576.0,707.0C578.3,706.3 581.0,704.2 582.0,706.0C583.0,707.8 583.7,715.7 582.0,718.0C580.3,720.3 575.0,719.5 572.0,720.0C569.0,720.5 566.0,722.0 564.0,721.0C562.0,720.0 559.3,715.8 560.0,714.0Z" fill="#96d2c8"/>
<path d="M540.0,762.0C541.7,760.8 545.0,760.7 548.0,761.0C551.0,761.3 555.0,762.5 558.0,764.0C561.0,765.5 563.7,767.7 566.0,770.0C568.3,772.3 570.7,775.0 572.0,778.0C573.3,781.0 574.7,785.7 574.0,788.0C573.3,790.3 570.7,791.7 568.0,792.0C565.3,792.3 561.3,790.7 558.0,790.0C554.7,789.3 551.0,789.0 548.0,788.0C545.0,787.0 541.8,786.0 540.0,784.0C538.2,782.0 537.3,778.7 537.0,776.0C536.7,773.3 537.5,770.3 538.0,768.0C538.5,765.7 538.3,763.2 540.0,762.0Z" fill="#96d2c8"/>
<path d="M496.0,816.0C497.2,814.2 500.7,813.2 504.0,813.0C507.3,812.8 511.7,814.2 516.0,815.0C520.3,815.8 525.3,817.7 530.0,818.0C534.7,818.3 539.3,817.0 544.0,817.0C548.7,817.0 555.3,816.5 558.0,818.0C560.7,819.5 560.3,823.3 560.0,826.0C559.7,828.7 558.7,832.3 556.0,834.0C553.3,835.7 548.3,835.8 544.0,836.0C539.7,836.2 534.7,835.5 530.0,835.0C525.3,834.5 520.3,833.8 516.0,833.0C511.7,832.2 507.2,831.5 504.0,830.0C500.8,828.5 498.3,826.3 497.0,824.0C495.7,821.7 494.8,817.8 496.0,816.0Z" fill="#96d2c8"/>
<path d="M453.0,826.0C453.8,824.7 457.7,823.2 460.0,823.0C462.3,822.8 465.5,823.8 467.0,825.0C468.5,826.2 469.8,828.8 469.0,830.0C468.2,831.2 464.3,832.2 462.0,832.4C459.7,832.6 456.5,832.1 455.0,831.0C453.5,829.9 452.2,827.3 453.0,826.0Z" fill="#96d2c8"/>
<path d="M168.0,820.0C168.8,818.3 171.3,816.8 174.0,816.0C176.7,815.2 180.7,814.7 184.0,815.0C187.3,815.3 191.3,816.5 194.0,818.0C196.7,819.5 198.5,822.0 200.0,824.0C201.5,826.0 202.7,827.8 203.0,830.0C203.3,832.2 203.2,835.3 202.0,837.0C200.8,838.7 197.7,838.8 196.0,840.0C194.3,841.2 191.9,842.7 191.6,844.4C191.3,846.1 192.9,848.1 194.0,850.0C195.1,851.9 196.3,854.5 198.0,856.0C199.7,857.5 201.0,858.3 204.0,859.0C207.0,859.7 212.3,860.2 216.0,860.0C219.7,859.8 223.5,859.3 226.0,858.0C228.5,856.7 230.0,854.0 231.0,852.0C232.0,850.0 232.5,848.0 232.0,846.0C231.5,844.0 229.5,841.8 228.0,840.0C226.5,838.2 223.0,836.7 223.0,835.0C223.0,833.3 225.8,831.7 228.0,830.0C230.2,828.3 233.3,826.3 236.0,825.0C238.7,823.7 241.3,822.2 244.0,822.0C246.7,821.8 249.3,822.7 252.0,824.0C254.7,825.3 257.3,828.0 260.0,830.0C262.7,832.0 265.7,834.0 268.0,836.0C270.3,838.0 272.0,840.5 274.0,842.0C276.0,843.5 277.3,844.5 280.0,845.0C282.7,845.5 286.7,845.4 290.0,845.0C293.3,844.6 297.0,843.6 300.0,842.4C303.0,841.2 305.8,839.3 308.0,838.0C310.2,836.7 311.3,834.4 313.0,834.4C314.7,834.4 316.5,836.6 318.0,838.0C319.5,839.4 320.3,841.8 322.0,843.0C323.7,844.2 325.7,844.8 328.0,845.0C330.3,845.2 333.3,843.8 336.0,844.0C338.7,844.2 341.3,845.2 344.0,846.0C346.7,846.8 349.3,848.2 352.0,849.0C354.7,849.8 357.3,850.5 360.0,851.0C362.7,851.5 365.3,851.7 368.0,852.0C370.7,852.3 373.3,852.5 376.0,853.0C378.7,853.5 381.3,854.2 384.0,855.0C386.7,855.8 389.3,857.0 392.0,858.0C394.7,859.0 397.3,860.2 400.0,861.0C402.7,861.8 405.0,862.6 408.0,863.0C411.0,863.4 414.7,863.6 418.0,863.6C421.3,863.6 425.0,863.3 428.0,863.0C431.0,862.7 433.8,862.2 436.0,862.0C438.2,861.8 440.2,850.9 441.0,861.6C441.8,872.3 441.8,914.4 441.0,926.0C440.2,937.6 437.5,929.4 436.0,931.0C434.5,932.6 434.0,934.6 432.0,935.6C430.0,936.6 426.7,937.1 424.0,937.0C421.3,936.9 418.3,935.0 416.0,935.0C413.7,935.0 412.0,936.3 410.0,937.0C408.0,937.7 406.0,938.8 404.0,939.0C402.0,939.2 400.0,938.2 398.0,938.0C396.0,937.8 393.7,936.6 392.0,937.6C390.3,938.6 390.0,941.3 388.0,944.0C386.0,946.7 384.7,951.0 380.0,954.0C375.3,957.0 370.0,964.0 360.0,962.0C350.0,960.0 333.3,946.7 320.0,942.0C306.7,937.3 290.0,938.0 280.0,934.0C270.0,930.0 261.2,924.1 260.0,918.0C258.8,911.9 270.2,901.1 272.7,897.3C275.1,893.5 273.5,895.5 274.7,895.0C275.9,894.5 277.8,894.4 280.0,894.0C282.2,893.6 288.0,893.2 288.0,892.7C288.0,892.2 282.7,892.0 280.0,891.3C277.3,890.6 274.7,889.8 272.0,888.7C269.3,887.6 266.2,886.2 264.0,884.7C261.8,883.2 260.5,881.3 258.7,880.0C256.9,878.7 255.3,877.2 253.3,877.0C251.3,876.8 248.9,877.9 246.7,878.7C244.5,879.5 242.4,881.0 240.0,882.0C237.6,883.0 235.1,884.2 232.0,884.7C228.9,885.2 224.9,885.0 221.3,884.7C217.8,884.4 214.2,883.5 210.7,882.7C207.1,881.9 202.1,880.4 200.0,880.0C197.9,879.6 199.0,879.7 198.0,880.4C197.0,881.1 195.7,882.7 194.0,884.0C192.3,885.3 190.0,886.8 188.0,888.0C186.0,889.2 184.0,889.3 182.0,891.0C180.0,892.7 183.0,895.5 176.0,898.0C169.0,900.5 151.3,905.3 140.0,906.0C128.7,906.7 113.7,908.0 108.0,902.0C102.3,896.0 99.0,875.3 106.0,870.0C113.0,864.7 141.3,871.0 150.0,870.0C158.7,869.0 155.5,864.7 158.0,864.0C160.5,863.3 162.7,865.2 165.0,866.0C167.3,866.8 169.7,868.2 172.0,869.0C174.3,869.8 177.2,871.1 179.0,871.0C180.8,870.9 183.0,869.7 183.0,868.4C183.0,867.1 180.3,865.1 179.0,863.0C177.7,860.9 176.0,858.5 175.0,856.0C174.0,853.5 173.2,850.7 173.0,848.0C172.8,845.3 174.0,842.5 174.0,840.0C174.0,837.5 173.8,835.3 173.0,833.0C172.2,830.7 169.8,828.2 169.0,826.0C168.2,823.8 167.2,821.7 168.0,820.0Z" fill="#96d2c8"/>
<path d="M581.0,756.0C581.7,754.7 585.5,752.9 588.0,752.4C590.5,751.9 594.3,752.2 596.0,753.0C597.7,753.8 598.7,755.8 598.0,757.0C597.3,758.2 594.3,759.5 592.0,760.0C589.7,760.5 585.8,760.7 584.0,760.0C582.2,759.3 580.3,757.3 581.0,756.0Z" fill="#96d2c8"/>
<path d="M202.0,867.0C202.7,866.3 205.3,865.3 208.0,865.0C210.7,864.7 214.8,864.7 218.0,865.0C221.2,865.3 226.7,866.2 227.0,867.0C227.3,867.8 222.8,869.1 220.0,869.6C217.2,870.1 212.7,870.1 210.0,870.0C207.3,869.9 205.3,869.5 204.0,869.0C202.7,868.5 201.3,867.7 202.0,867.0Z" fill="#a0beeb"/>
<path d="M320.0,902.0C320.7,899.7 321.0,896.2 322.0,894.0C323.0,891.8 324.0,890.0 326.0,889.0C328.0,888.0 331.3,887.7 334.0,888.0C336.7,888.3 340.2,889.8 342.0,891.0C343.8,892.2 345.0,893.2 345.0,895.0C345.0,896.8 342.8,899.5 342.0,902.0C341.2,904.5 341.0,907.3 340.0,910.0C339.0,912.7 338.0,916.7 336.0,918.0C334.0,919.3 330.7,918.7 328.0,918.0C325.3,917.3 321.7,915.7 320.0,914.0C318.3,912.3 318.0,910.0 318.0,908.0C318.0,906.0 319.3,904.3 320.0,902.0Z" fill="#a0beeb"/>
<path d="M358.0,930.0C358.7,928.0 360.0,925.9 362.0,925.0C364.0,924.1 367.7,923.9 370.0,924.4C372.3,924.9 374.6,926.1 376.0,928.0C377.4,929.9 378.2,933.5 378.4,936.0C378.6,938.5 378.7,941.5 377.0,943.0C375.3,944.5 370.8,945.0 368.0,945.0C365.2,945.0 361.7,944.3 360.0,943.0C358.3,941.7 357.9,939.2 357.6,937.0C357.3,934.8 357.3,932.0 358.0,930.0Z" fill="#a0beeb"/>
<path d="M385.0,930.0C385.2,928.9 386.8,928.0 388.0,928.0C389.2,928.0 391.5,929.0 392.0,930.0C392.5,931.0 391.8,933.3 391.0,934.0C390.2,934.7 388.0,935.1 387.0,934.4C386.0,933.7 384.8,931.1 385.0,930.0Z" fill="#a0beeb"/>
<path d="M433.0,929.0C434.2,928.2 439.7,927.2 441.0,928.0C442.3,928.8 442.2,933.2 441.0,934.0C439.8,934.8 435.3,933.8 434.0,933.0C432.7,932.2 431.8,929.8 433.0,929.0Z" fill="#a0beeb"/>
<path d="M393.0,876.0C393.4,874.8 395.0,873.6 396.0,873.6C397.0,873.6 398.6,874.6 399.0,876.0C399.4,877.4 398.6,880.1 398.4,882.0C398.2,883.9 398.2,886.9 397.6,887.6C397.0,888.3 395.7,887.1 395.0,886.0C394.3,884.9 393.9,882.7 393.6,881.0C393.3,879.3 392.6,877.2 393.0,876.0Z" fill="#8fe89a"/>
<path d="M418.0,885.0C418.3,884.0 420.7,886.5 422.0,888.0C423.3,889.5 424.7,892.2 426.0,894.0C427.3,895.8 428.3,898.0 430.0,899.0C431.7,900.0 434.2,899.8 436.0,900.0C437.8,900.2 440.2,899.2 441.0,900.4C441.8,901.6 442.8,905.7 441.0,907.0C439.2,908.3 433.2,908.0 430.0,908.0C426.8,908.0 423.8,908.0 422.0,907.0C420.2,906.0 419.3,904.2 419.0,902.0C418.7,899.8 420.2,896.8 420.0,894.0C419.8,891.2 417.7,886.0 418.0,885.0Z" fill="#8fe89a"/>
<path d="M437.6,850.0C435.7,844.7 437.3,841.1 438.4,838.0C439.5,834.9 441.8,833.0 444.4,831.6C447.0,830.2 450.7,830.0 454.0,829.6C457.3,829.2 461.0,829.3 464.0,829.0C467.0,828.7 469.3,827.8 472.0,827.6C474.7,827.4 477.3,827.4 480.0,827.6C482.7,827.8 485.3,828.3 488.0,828.6C490.7,828.9 493.3,828.9 496.0,829.2C498.7,829.5 501.3,829.9 504.0,830.6C506.7,831.3 509.5,832.4 512.0,833.2C514.5,834.0 516.7,834.5 519.0,835.6C521.3,836.7 526.3,838.1 526.0,840.0C525.7,841.9 524.7,842.0 517.0,847.0C509.3,852.0 491.2,866.2 480.0,870.0C468.8,873.8 457.1,873.3 450.0,870.0C442.9,866.7 439.5,855.3 437.6,850.0Z" fill="#6b9de1"/>
<path d="M562.4,828.0C558.1,829.0 563.1,833.6 564.4,836.0C565.7,838.4 567.7,840.4 570.0,842.4C572.3,844.4 574.7,846.8 578.0,848.0C581.3,849.2 586.3,849.3 590.0,849.6C593.7,849.9 596.7,850.2 600.0,850.0C603.3,849.8 607.6,849.3 610.0,848.4C612.4,847.5 612.9,844.6 614.4,844.4C615.9,844.2 617.7,845.9 619.0,847.0C620.3,848.1 620.2,849.2 622.0,851.0C623.8,852.8 626.0,857.8 630.0,858.0C634.0,858.2 646.0,855.0 646.0,852.0C646.0,849.0 639.3,843.7 630.0,840.0C620.7,836.3 601.3,832.0 590.0,830.0C578.7,828.0 566.7,827.0 562.4,828.0Z" fill="#6b9de1"/>
<path d="M594.0,400.0C594.7,397.8 596.3,395.5 598.0,395.0C599.7,394.5 601.7,396.2 604.0,397.0C606.3,397.8 609.3,398.8 612.0,400.0C614.7,401.2 617.8,402.7 620.0,404.0C622.2,405.3 624.3,404.9 625.0,407.6C625.7,410.3 625.2,417.3 624.4,420.0C623.6,422.7 621.7,422.7 620.0,424.0C618.3,425.3 615.8,428.0 614.0,428.0C612.2,428.0 610.7,425.7 609.0,424.0C607.3,422.3 605.7,420.0 604.0,418.0C602.3,416.0 600.7,413.7 599.0,412.0C597.3,410.3 594.8,410.0 594.0,408.0C593.2,406.0 593.3,402.2 594.0,400.0Z" fill="#3c7ddc"/>
<path d="M558.8,446.2C562.9,445.8 561.9,442.6 565.0,442.0C568.1,441.4 573.7,441.9 577.5,442.5C581.3,443.1 585.8,443.6 588.0,445.5C590.2,447.4 590.7,450.8 590.5,453.8C590.3,456.7 589.2,461.2 587.0,463.0C584.8,464.8 580.3,464.8 577.5,464.5C574.7,464.2 572.1,462.5 570.0,461.2C567.9,460.0 566.9,457.5 565.0,457.0C563.1,456.5 561.0,457.2 558.8,458.0C556.5,458.8 554.0,460.3 551.2,461.8C548.5,463.2 545.6,464.9 542.5,466.5C539.4,468.1 535.8,470.2 532.5,471.5C529.2,472.8 526.2,473.7 522.5,474.5C518.8,475.3 513.8,475.4 510.0,476.2C506.2,477.1 503.1,478.2 500.0,479.5C496.9,480.8 493.7,482.4 491.2,483.8C488.8,485.1 486.1,486.0 485.5,487.5C484.9,489.0 486.5,491.1 487.5,493.0C488.5,494.9 489.8,497.0 491.2,499.0C492.7,501.0 494.4,503.0 496.2,505.0C498.1,507.0 500.4,509.2 502.5,511.2C504.6,513.3 506.7,515.4 508.8,517.5C510.8,519.6 513.1,521.7 515.0,523.8C516.9,525.8 518.8,527.9 520.0,530.0C521.2,532.1 522.4,534.1 522.5,536.2C522.6,538.4 522.0,540.9 520.5,543.0C519.0,545.1 516.3,547.2 513.8,549.0C511.2,550.8 508.1,552.6 505.0,554.0C501.9,555.4 498.3,556.7 495.0,557.5C491.7,558.3 488.5,558.5 485.0,559.0C481.5,559.5 476.5,560.5 473.8,560.2C471.0,560.0 468.2,558.4 468.2,557.5C468.2,556.6 472.4,556.7 473.8,555.0C475.1,553.3 476.2,550.4 476.5,547.5C476.8,544.6 476.2,540.8 475.5,537.5C474.8,534.2 474.0,530.4 472.5,527.5C471.0,524.6 468.5,522.3 466.2,520.0C464.0,517.7 461.2,515.8 458.8,513.8C456.2,511.7 453.3,509.8 451.2,507.5C449.2,505.2 447.5,502.9 446.2,500.0C445.0,497.1 444.0,493.3 443.8,490.0C443.5,486.7 444.0,483.1 445.0,480.0C446.0,476.9 447.9,474.2 450.0,471.2C452.1,468.3 455.0,465.0 457.5,462.5C460.0,460.0 462.3,458.1 465.0,456.2C467.7,454.4 470.4,452.6 473.8,451.2C477.1,449.9 480.2,448.8 485.0,448.0C489.8,447.2 496.7,446.8 502.5,446.2C508.3,445.8 513.8,445.2 520.0,445.0C526.2,444.8 533.5,444.8 540.0,445.0C546.5,445.2 554.6,446.8 558.8,446.2Z" fill="#3c7ddc"/>
<path d="M257.0,718.0C257.0,716.6 259.2,713.6 261.0,712.4C262.8,711.2 265.5,711.0 268.0,711.0C270.5,711.0 274.0,711.7 276.0,712.4C278.0,713.1 279.2,713.7 280.0,715.0C280.8,716.3 281.7,718.8 281.0,720.0C280.3,721.2 278.2,721.7 276.0,722.0C273.8,722.3 270.5,721.8 268.0,721.6C265.5,721.4 262.8,721.6 261.0,721.0C259.2,720.4 257.0,719.4 257.0,718.0Z" fill="#3c7ddc"/>
<path d="M308.0,707.0C308.1,706.0 310.3,704.4 312.0,704.0C313.7,703.6 316.6,703.8 318.0,704.4C319.4,705.0 320.6,706.7 320.4,707.6C320.2,708.5 318.5,709.6 317.0,710.0C315.5,710.4 313.1,710.5 311.6,710.0C310.1,709.5 307.9,708.0 308.0,707.0Z" fill="#3c7ddc"/>
<path d="M226.0,756.0C227.0,755.3 230.7,754.3 234.0,754.0C237.3,753.7 242.5,753.7 246.0,754.0C249.5,754.3 254.7,755.3 255.0,756.0C255.3,756.7 251.2,757.9 248.0,758.4C244.8,758.9 239.3,759.1 236.0,759.0C232.7,758.9 229.7,758.5 228.0,758.0C226.3,757.5 225.0,756.7 226.0,756.0Z" fill="#3c7ddc"/>
<path d="M202,769 L220,768 L230,769 L240,772 L250,775 L260,777 L270,780 L278,782 L286,784 L294,787 L302,790 L308,794 L310,799 L306,803 L301,808 L298,812.4 L270,812.4 L240,812.4 L225,812.4 L210,812.4 L198,790Z" fill="#3c7ddc"/>
<path d="M620.0,580.0C613.3,570.4 609.2,585.4 605.0,587.5C600.8,589.6 598.8,591.5 595.0,592.5C591.2,593.5 586.7,593.8 582.5,593.8C578.3,593.8 574.2,593.1 570.0,592.5C565.8,591.9 561.7,591.2 557.5,590.0C553.3,588.8 548.8,586.7 545.0,585.0C541.2,583.3 538.3,581.2 535.0,580.0C531.7,578.8 528.8,578.2 525.0,578.0C521.2,577.8 516.2,578.2 512.5,578.8C508.8,579.3 505.4,579.8 502.5,581.2C499.6,582.7 496.6,584.8 495.0,587.5C493.4,590.2 493.4,595.8 493.0,597.5C492.6,599.2 492.4,596.2 492.5,597.5C492.6,598.8 493.1,602.6 493.3,605.0C493.6,607.4 493.9,609.6 494.2,611.7C494.4,613.7 495.2,614.9 495.0,617.2C494.8,619.4 493.5,622.9 492.7,625.0C491.8,627.1 491.6,628.7 490.0,630.0C488.4,631.3 486.1,632.4 483.3,633.0C480.6,633.6 476.7,633.5 473.3,633.7C470.0,633.9 466.4,634.0 463.3,634.2C460.3,634.3 457.2,634.6 455.0,634.7C452.8,634.8 451.4,635.0 450.0,634.7C448.6,634.3 447.9,633.7 446.7,632.5C445.4,631.3 443.8,629.3 442.5,627.5C441.2,625.7 440.7,623.2 439.2,621.7C437.6,620.1 435.3,619.1 433.3,618.3C431.4,617.6 430.0,617.1 427.5,617.0C425.0,616.9 420.1,614.2 418.3,617.5C416.5,620.8 422.4,633.5 416.7,636.7C411.0,639.9 389.6,635.0 384.2,636.7C378.8,638.3 384.0,643.9 384.2,646.7C384.3,649.4 384.3,651.4 385.0,653.3C385.7,655.3 387.1,656.7 388.3,658.3C389.6,660.0 391.1,661.7 392.5,663.3C393.9,665.0 395.4,666.8 396.7,668.3C397.9,669.9 398.8,671.1 400.0,672.5C401.2,673.9 402.8,675.1 404.2,676.7C405.6,678.2 406.8,680.0 408.3,681.7C409.9,683.3 411.7,685.0 413.3,686.7C415.0,688.3 416.7,690.0 418.3,691.7C420.0,693.3 421.7,695.1 423.3,696.7C425.0,698.2 426.7,699.6 428.3,700.8C430.0,702.1 431.7,703.3 433.3,704.2C435.0,705.0 436.4,705.8 438.3,705.8C440.3,705.8 442.8,704.9 445.0,704.2C447.2,703.5 449.6,702.6 451.7,701.7C453.8,700.7 455.8,699.4 457.5,698.3C459.2,697.2 460.2,696.4 461.7,695.0C463.1,693.6 464.9,691.2 466.0,690.0C467.1,688.8 465.7,688.7 468.0,688.0C470.3,687.3 476.0,686.7 480.0,686.0C484.0,685.3 488.0,684.7 492.0,684.0C496.0,683.3 500.0,683.0 504.0,682.0C508.0,681.0 512.7,679.2 516.0,678.0C519.3,676.8 521.2,675.5 524.0,675.0C526.8,674.5 529.8,675.8 532.5,675.0C535.2,674.2 539.2,672.1 540.0,670.0C540.8,667.9 538.5,665.4 537.5,662.5C536.5,659.6 534.7,655.8 533.8,652.5C532.8,649.2 531.9,645.1 532.0,642.5C532.1,639.9 533.0,638.2 534.5,637.0C536.0,635.8 538.7,635.2 541.2,635.5C543.8,635.8 547.1,637.2 550.0,638.8C552.9,640.3 556.3,642.3 558.8,645.0C561.2,647.7 563.0,651.7 564.5,655.0C566.0,658.3 566.6,661.7 567.5,665.0C568.4,668.3 569.7,671.7 570.0,675.0C570.3,678.3 570.0,681.9 569.5,685.0C569.0,688.1 566.9,691.7 567.0,693.8C567.1,695.8 567.8,696.9 570.0,697.5C572.2,698.1 576.2,697.9 580.0,697.5C583.8,697.1 581.7,703.8 592.5,695.0C603.3,686.2 640.4,664.2 645.0,645.0C649.6,625.8 626.7,589.6 620.0,580.0Z" fill="#3c7ddc"/>
<path d="M440,848 L440,842.4 L441,838 L446,834 L454,832.4 L464,831.6 L472,830 L480,830 L488,831 L496,831.6 L504,833 L512,835.6 L518,838 L523,841 L517,847 L532,858 L548,870 L600,870 L600,1020 L460,1020 L460,970 L455.6,966 L452,962 L449,957 L447,952 L445,947 L444,942 L443.8,930 L443.6,910 L443.4,898 L443,887 L440,886 L440,870 L440,858Z" fill="#3c7ddc"/>
<path d="M622.0,781.6C619.5,781.2 621.0,780.4 619.0,779.6C617.0,778.8 613.2,777.6 610.0,777.0C606.8,776.4 603.2,776.0 600.0,776.0C596.8,776.0 594.0,776.3 591.0,777.0C588.0,777.7 584.8,778.5 582.0,780.0C579.2,781.5 576.3,783.7 574.0,786.0C571.7,788.3 569.5,791.0 568.0,794.0C566.5,797.0 565.8,800.7 565.0,804.0C564.2,807.3 563.5,810.7 563.0,814.0C562.5,817.3 561.8,820.7 562.0,824.0C562.2,827.3 562.7,831.3 564.0,834.0C565.3,836.7 567.3,838.3 570.0,840.0C572.7,841.7 576.7,843.2 580.0,844.0C583.3,844.8 586.7,844.7 590.0,845.0C593.3,845.3 596.7,846.2 600.0,846.0C603.3,845.8 607.7,844.4 610.0,843.6C612.3,842.8 612.5,841.1 614.0,841.0C615.5,840.9 617.7,841.7 619.0,843.0C620.3,844.3 620.5,846.2 622.0,849.0C623.5,851.8 623.3,857.5 628.0,860.0C632.7,862.5 641.3,867.3 650.0,864.0C658.7,860.7 675.0,852.3 680.0,840.0C685.0,827.7 687.7,799.7 680.0,790.0C672.3,780.3 643.7,783.4 634.0,782.0C624.3,780.6 624.5,782.0 622.0,781.6Z" fill="#3c7ddc"/>
<path d="M485.5,487.5C486.5,487.1 488.8,488.8 491.2,490.0C493.7,491.2 498.2,493.3 500.0,495.0C501.8,496.7 502.2,498.3 502.0,500.0C501.8,501.7 500.1,504.4 498.8,505.0C497.4,505.6 495.6,504.8 493.8,503.8C491.9,502.7 489.0,500.6 487.5,498.8C486.0,496.9 485.3,494.4 485.0,492.5C484.7,490.6 484.5,487.9 485.5,487.5Z" fill="#a0beeb"/>
<path d="M476.2,527.5C476.7,527.1 478.2,527.5 479.5,528.8C480.8,530.0 482.5,533.0 483.8,535.0C485.0,537.0 486.9,539.7 487.0,540.5C487.1,541.3 485.7,540.9 484.5,540.0C483.3,539.1 481.2,536.5 480.0,535.0C478.8,533.5 477.6,532.5 477.0,531.2C476.4,530.0 475.8,527.9 476.2,527.5Z" fill="#a0beeb"/>
<path d="M542.5,645.0C543.4,644.0 545.6,642.6 547.5,643.0C549.4,643.4 552.1,645.5 553.8,647.5C555.4,649.5 557.1,652.7 557.5,655.0C557.9,657.3 557.2,659.6 556.2,661.2C555.3,662.9 553.4,665.2 552.0,665.0C550.6,664.8 549.2,661.9 548.0,660.0C546.8,658.1 545.5,655.6 544.5,653.8C543.5,651.9 542.3,650.2 542.0,648.8C541.7,647.3 541.6,646.0 542.5,645.0Z" fill="#a0beeb"/>
<path d="M562.0,618.8C562.4,618.0 567.0,617.0 570.0,617.0C573.0,617.0 579.0,618.0 580.0,618.8C581.0,619.5 578.3,620.8 576.2,621.2C574.2,621.8 569.9,622.2 567.5,621.8C565.1,621.3 561.6,619.5 562.0,618.8Z" fill="#a0beeb"/>
<path d="M596.2,635.0C597.3,633.1 599.6,630.8 601.2,631.2C602.9,631.7 606.2,635.2 606.2,637.5C606.2,639.8 603.1,644.2 601.2,645.0C599.4,645.8 595.8,644.2 595.0,642.5C594.2,640.8 595.2,636.9 596.2,635.0Z" fill="#6b9de1"/>
<path d="M447.5,655.0C447.8,653.6 449.6,651.8 451.7,650.8C453.8,649.9 457.5,649.3 460.0,649.2C462.5,649.0 464.4,649.3 466.7,650.0C468.9,650.7 471.9,652.2 473.3,653.3C474.7,654.4 475.1,655.0 475.0,656.7C474.9,658.3 473.5,661.1 472.5,663.3C471.5,665.6 470.3,668.1 469.2,670.0C468.1,671.9 466.9,673.8 465.8,675.0C464.7,676.2 463.6,677.9 462.5,677.5C461.4,677.1 460.4,674.6 459.2,672.5C457.9,670.4 456.5,667.2 455.0,665.0C453.5,662.8 451.2,660.8 450.0,659.2C448.8,657.5 447.2,656.4 447.5,655.0Z" fill="#2d5fc8"/>
<path d="M490.8,643.3C491.4,641.9 494.6,643.6 496.7,643.3C498.8,643.1 500.6,642.2 503.3,641.7C506.1,641.2 510.3,640.1 513.3,640.3C516.4,640.6 519.3,641.9 521.7,643.3C524.0,644.8 526.2,646.9 527.5,649.2C528.8,651.4 529.3,654.3 529.2,656.7C529.0,659.0 527.6,661.4 526.7,663.3C525.7,665.3 525.0,667.2 523.3,668.3C521.7,669.4 519.2,669.7 516.7,670.0C514.2,670.3 510.8,670.3 508.3,670.0C505.8,669.7 503.6,669.3 501.7,668.3C499.7,667.4 497.9,665.8 496.7,664.2C495.4,662.5 494.7,660.4 494.2,658.3C493.6,656.2 493.9,654.2 493.3,651.7C492.8,649.2 490.3,644.7 490.8,643.3Z" fill="#2d5fc8"/>
<path d="M531.7,605.0C532.2,603.3 534.3,603.1 535.8,603.0C537.4,602.9 539.8,602.7 540.8,604.2C541.9,605.6 541.9,609.3 542.0,611.7C542.1,614.0 541.9,616.7 541.3,618.3C540.7,620.0 539.5,621.4 538.3,621.7C537.1,621.9 535.1,621.4 534.2,620.0C533.2,618.6 532.9,615.8 532.5,613.3C532.1,610.8 531.1,606.7 531.7,605.0Z" fill="#2d5fc8"/>
<path d="M606.2,607 L620,607.5 L620,610 L607.5,609Z" fill="#2d5fc8"/>
</g>
<path d="M336,486 L336,480 L335.6,475 L333.6,471.6 L335.6,469.6 L332.4,468 L329.6,464.4 L332,461.6 L331,458 L333.6,456 L336,451.6 L339.6,448 L344,446.4 L348.4,448 L351,452.4 L352,458 L353.6,461 L358,460 L362.4,458.4 L368,457.6 L373,457 L376,454 L375.6,450 L379,451 L382,450 L386,448 L390,446.4 L391,442.4 L388.4,439.6 L385.6,437 L389,435.6 L394,433.6 L398,430.4 L401,431.6 L404,430 L406,433 L407,438 L408.4,442 L412,445.6 L414.4,449.6 L417,453.6 L417.6,458 L418,463 L417,467 L413,467.6 L414,470 L419,469 L423,468 L426,466 L430,467 L433,470 L438,470.4 L442,469 L443,465 L440,462 L439.6,459 L443,457 L447,455.6 L450,453 L449,449 L450,445.6 L454,445 L458,442.4 L462,441 L467,439 L472,438 L478,437.6 L484,436.4 L490,435.6 L493.8,433.8 L498.8,428.8 L510,421 L516,424 L522,428 L530,428 L537,429 L540,434 L543,439 L541,442.4 L546,444 L552.4,441 L555,439.6 L558,442.4 L564,443.6 L565,447 L560,449 L559,452 L563,454 L564,460 L565,465 L569,469 L574,473 L579,471 L584,469 L590,472 L594,473 L599,474 L601,470" fill="none" stroke="#2a3442" stroke-width="1.6" stroke-linejoin="round"/>
<path d="M448.3,634.2 L452.5,633 L455,630 L457.5,626.7 L460.8,622.5 L464.2,619.2 L468.3,615.8 L473.3,613.3 L478.3,611.7 L483.3,612 L485.8,615 L488.3,617.5 L493.3,618.3 L500,618.7 L506.7,618.3 L509.2,621.7 L510,626.7 L511.3,631.7 L508.3,635 L503.3,637.5 L498.3,640 L493.3,642 L490.8,644.2 L493.3,647.5 L496.7,650 L501.7,652.5 L505.8,654.2 L506.7,658.3 L504.2,661.3 L500,660 L495,659.2 L490.8,660.8 L486.7,664.2 L482.5,666.7 L478.3,669.2 L474.2,671.7 L470.8,674.2 L466.7,676.7 L462.5,679.2 L460,682 L456.7,685 L451.7,686.3 L447.5,686.7 L444.2,685 L440,683 L435.8,680 L432.5,676.7 L429.2,672.5 L426.7,668.3 L424.2,664.2 L421.7,660.8 L423.3,656.7 L426.7,653.3 L429.2,648.3 L432.5,644.2 L435.8,640.8 L440,638.3 L444.2,635.8 L448.3,634.2" fill="none" stroke="#2a3442" stroke-width="1.6" stroke-linejoin="round"/>
<path d="M448.3,634.2 L445,630 L442.5,625.8 L440,621.7 L433.3,618.7 L426.7,617.5" fill="none" stroke="#2a3442" stroke-width="1.6" stroke-linejoin="round"/>
<path d="M511.3,631.7 L513.3,627.5 L514,626.4 L520,626 L528,625.6 L536,625 L543,626 L550,627 L558,627.6 L564,626.4 L570,627.6 L576,626 L580,623 L584,620 L588,616 L590,613 L588,609 L585,606 L580,604 L576,602 L578,599 L583,598 L588,597 L593,595 L598,592.4 L603,590 L608,588 L613,585.6 L618.4,582.4" fill="none" stroke="#2a3442" stroke-width="1.6" stroke-linejoin="round"/>
<path d="M459,686 L461,690 L464,693 L467,696 L468,699 L474,698.4 L480,699 L486,699 L492,698 L498,696 L503,695.6 L505,700 L505.6,706 L506.4,712.4 L504,715 L501,717 L502,721 L504,725 L508,729 L507,734 L509,738 L513,740 L518,741.6 L524,743 L530,744 L536,745 L538,747.4" fill="none" stroke="#2a3442" stroke-width="1.6" stroke-linejoin="round"/>
<path d="M479.6,699.4 L477,705 L475,709 L468,710 L460,711.6 L452,713 L445,714.4 L440,717 L435,715 L432,714 L431.6,718 L432,723 L430,727 L425,725 L420,726 L419,729 L415,731 L413,735 L418,736 L424,735.6 L430,734 L436,732 L440,732.4 L437,736 L432,739.6 L426,742.4 L420,744.4 L412,746.4 L406,747.6 L400,748 L393.3,748.7 L386.7,748.3 L380,747.5 L373.3,746.3 L367.5,746.7" fill="none" stroke="#2a3442" stroke-width="1.6" stroke-linejoin="round"/>
<path d="M538,747.4 L537,744 L540,742 L544,740 L549,739.6 L552,743 L557,745 L560,747 L563,743 L564,737 L565,732 L569,728 L574,726 L580,725.6 L587,727 L594,728 L601,728.4 L608.4,730" fill="none" stroke="#2a3442" stroke-width="1.6" stroke-linejoin="round"/>
<path d="M538,747.4 L543,752.4 L540,755 L536,757 L531,758.4 L525,760 L520,762 L517,766 L516,771 L519,774 L522,777 L520,780 L515,782 L509,783 L502,782.4 L496,781.6 L490,780 L484,779.6 L478,780 L473,778 L468,776 L464,778 L459,781 L453,783 L447,785.6 L441,786.4 L436,785 L430,785 L424,786.4 L419,790 L414,789.6 L408,791 L403,790 L400,789 L396,790 L390,792 L382,795 L375,796 L369,797 L362,796 L356,794 L350,797 L344,798 L336,796 L330,792 L330,795 L324,797 L318,798 L313,800 L308,803 L304,802 L301,798 L299,792 L297,787 L295,788 L292,792 L286,791 L281,789 L276,786 L272,783 L269,780 L268,784 L264,787 L259,785 L254,782 L250,780 L248,783 L246,788 L245,794 L243,799 L236,800 L230,803 L227,807 L224,810" fill="none" stroke="#2a3442" stroke-width="1.6" stroke-linejoin="round"/>
<path d="M447,786 L448,790 L454,791 L457,794 L457,798 L453,801 L448,803 L443,805 L445,808 L440,811 L436,814 L430,814 L426,816 L423,820 L421,825 L423,829 L421,834 L420,838 L426,837 L432,839 L438,842 L444,846 L450,850 L456,854 L460,852 L464,849 L469,848 L474,850 L480,851 L486,850 L492,852 L497,854 L502,853 L508,852" fill="none" stroke="#2a3442" stroke-width="1.6" stroke-linejoin="round"/>
<path d="M330,795 L331,790 L333,784 L335,778 L338,773 L344,770 L350,769 L356,768 L358,762 L361,756 L364,751 L366,746 L365,740 L367,734 L366,728 L364,722 L363,716 L362,710 L362.4,704 L361,698 L360,692 L358,686 L353,683 L348,680 L347,675 L348,670 L350,667" fill="none" stroke="#2a3442" stroke-width="1.6" stroke-linejoin="round"/>
<path d="M369,797 L369,804 L370,812 L373,817 L377,820 L379,823 L376,827 L372,830 L369,834 L367,839 L368,843 L371,846 L374,849 L372,854 L373,859 L375,864 L377,868 L374,872 L372,876 L370,880 L372,884 L376,888 L380,890 L384,893 L387,897 L389,902 L388,906 L382,906 L386,909 L390,912 L391,917 L389,920 L385,922 L380,924 L376,926 L374,929 L376,932 L378,936 L380,940" fill="none" stroke="#2a3442" stroke-width="1.6" stroke-linejoin="round"/>
<path d="M547,259.6 L551,257 L554,255 L555,252.4 L551,249 L548.4,246.4 L552,243.6 L556,248 L559,249 L566,247 L574,244.4 L583,242 L581,237 L577,233 L574.4,230 L575,226.4 L580,226 L587,228 L590,230 L593,234 L598,237 L601,239 L603.6,236 L606,233.6 L611,234 L615,233 L618.4,236 L621,240 L624,243 L629,244 L632.4,242 L634.4,238 L638,234 L641,230 L645,225 L649,222 L654,220 L660,219 L664,215 L670,215.6 L675,213 L677,215 L676.4,219 L673,222 L671,225 L668,227 L667.6,230 L670,233 L674,234.4 L678,236 L681,237 L682.4,241 L687,241.4 L683.6,244.4 L682.4,249 L681,253 L679,256 L678,260 L675,264 L672,267 L668,269 L663,270 L660,273 L659.6,276 L662,279 L662.4,283 L661.6,287 L659.6,291 L657,294 L655,298 L652,301 L649.6,305 L649,309 L651,312 L653.6,314 L652,318 L649,320 L649.6,324 L647,326.4 L643,325 L639,328 L636,332 L632,335 L628,338 L624,340 L619,341 L617,345 L615.6,349 L612.4,352 L611.6,357 L613,361 L612,365 L612.4,370 L615,374 L619,376.4 L622,379 L624.4,383.6 L627,387.6 L629.6,391 L634,393 L638,395 L636,398 L632.4,399.6 L637,401.6 L641,404.4 L639.6,408.4 L641,413 L639,417 L637.6,421 L636,424.4 L631,425.6 L626,427 L624.4,430 L626.4,433.6 L631,435 L631.6,439 L630,442.4 L627,445 L623.6,448.4 L620,452 L617,455 L614,458 L611,461 L608,463.6 L605,466 L601,468 L599.6,470 L603,472 L604,475 L602.4,479 L600,482 L603,485 L603.6,489 L601,492.4 L604,494.4 L607,497 L604,500 L601,501.6 L604,504.4 L607,508 L609.6,511 L611,515 L611.6,519.6 L610.4,524 L609.6,528.4 L610,533 L609.6,538 L609,543 L607.6,547 L607,550 L606.6,552.4 L606.4,555 L608,560 L609.6,565 L611.6,570 L613,575 L614.4,580 L617.6,582.4 L618,587 L619.6,592 L621,597 L621.6,602 L622.4,606 L621.6,610 L619.6,614 L616.4,617.6 L613,621 L610,625 L608,629 L605.6,633 L603,637 L601,641 L599,645 L598,649.6 L598.4,654 L596,658 L594,662 L591.6,666 L589.6,670 L587,674 L583.6,678 L586.4,681 L585.6,686 L586,692 L586.4,698 L587,700 L588.4,704.4 L592,707 L597,708 L602,709 L603,713 L599,716 L600.4,720 L603,724 L606,727.6 L609.6,729.6 L611,734 L609,738 L606,741 L604.4,743.6 L609,745 L614,746.4 L619,749 L623,751 L626,753.6 L624,757 L621,759.6 L620,763.6 L623,767 L627,770 L629,773.6 L626.4,776.4 L622,778.4 L623,781.6 L627.6,783 L632,785 L635.6,788 L639,791 L642,794.4 L644.4,798 L647,801.6 L652,804 L657,807 L660.4,810.4 L663,815 L664.4,819.6 L664,824 L662,828.4 L663.6,832.4 L665,836.4 L662.4,840 L659,842.4 L656,845.6 L652,847.6 L647.6,849 L643.6,851 L640,852.4 L636.4,855.6 L633.6,858 L630,855 L627,853 L624,850 L621,847.6 L619,843.6 L615,842.4 L612,845 L609.6,849 L605.6,850.4 L600.4,850 L595,851 L590,851.6 L585,850 L580,848.4 L575,848 L570,848.4 L565,847.6 L560,846 L555,844.4 L550,843.6 L544,843 L538,843.6 L532,843 L527,841.6 L524,844.4 L519,845.6 L514,847 L511,850 L507.6,852.4 L511,854.4 L516,855 L521,856 L526,856.4 L531,857.6 L536,859 L541,861 L542,865 L541,870 L539.6,875 L542,878.4 L547,877 L552,878 L557,879 L562,880 L567,882 L571,884.4 L575,887.6 L577,891.6 L579,896 L579.6,900 L583,904 L580,906.4 L576,905.6 L572,906 L569.6,910 L566,912.4 L561,911 L556,909 L551,909 L546,909.6 L541,908.4 L536,907.6 L531,908 L526,909 L524,912 L524.4,915.6 L521,918.4 L518,922 L516,926 L513.6,930 L512.4,934 L512,938 L515,941 L519,944 L523,947 L522.4,951 L524.4,956 L524,961 L521.6,965 L523,970 L523.6,974 L521,978 L522,982 L525,985.6 L526,989 L523.6,992 L523,994.4 L518,995 L512,995 L506,995.6 L500,996 L494,996.4 L491,995 L489,991 L488,987.6 L483.6,985.6 L480,983 L477,980 L473,977 L469,974 L465,971.6 L460,969.6 L455,968 L450,966 L446,963 L441,961 L436,957.6 L432,957 L429,955 L425,952.4 L421,950 L417,948 L414,945.6 L414,942 L410,940 L406,941 L401,942 L396,943.6 L392,942 L388,940 L385,941 L382,944 L378,945 L374,944.4 L369,945 L365,947 L364,951 L361,952.4 L358,950 L354,947 L350,945 L346.4,942 L343.6,939 L341,935.6 L338,933 L334.4,932.4 L332,929 L330,926.4 L326,925.6 L321,927 L317,928 L313,926.4 L309,925 L307.6,921 L307,917 L305,913.6 L301,913.6 L297.6,916 L294.4,919 L292,923 L289.6,926.4 L287,925 L284,922 L280,920 L276,918 L272.4,915.6 L270.4,913 L273.6,910 L274,905 L272.4,901 L270,897.6 L267,895 L263,894 L258,895.6 L253,896 L248,895.6 L243,896.4 L240,894.4 L236,895 L231,897 L226,898.4 L221,899.6 L216,901 L211,902.4 L208,905 L204.4,906 L201,903 L198,900.4 L193,899.6 L188,898 L183,897 L178,895.6 L174,893 L171,889.6 L170.4,885 L168,882 L164.4,883 L160,884.4 L155,884 L150,885 L147,887 L146.4,891 L143,892.4 L139,892 L134.4,894 L130,895.6 L125,897.6 L121.6,895 L120,891 L118.4,887 L116.4,883 L114.4,879 L116.4,876 L120,877 L125,878.4 L130,877 L135,875.6 L140,874 L145,872.4 L150,871 L154.4,868 L157,864 L158,859 L156,855 L159,852.4 L161,849 L159,845 L154,843.6 L149,842 L145,840 L141,837.6 L138.4,834 L136,829.6 L140,829 L145,829.6 L148,826 L147.6,821.6 L150,818 L153,814.4 L157,811 L159,807 L164,807 L169,807.6 L173,807 L176,810 L180,812.4 L184,813 L188,810.4 L192,808 L197,807 L202,806 L208,806.4 L209.6,810 L210.4,814 L215,817 L219,816.4 L221,813 L220,810 L217.6,804 L215,799 L213.6,794 L211.6,790 L209,786 L207.6,782 L206.4,778 L209,775 L211.6,771 L211,767 L212.4,762 L215,758 L219,755.6 L220.4,751.6 L220,747 L218,744 L213.6,743.6 L215,739.6 L219,740 L224,742 L229,743 L232.4,741 L235,737 L236,732.4 L233.6,730 L230,728 L227,725.6 L224.4,722.4 L221,719.6 L217,717 L213,715.6 L209,715 L204,716 L199,716.4 L196.4,714 L195,711 L198,708.4 L202.4,706 L207,704.4 L210,702.4 L211,699 L214,696.4 L218,693.6 L220.4,690 L220,686 L218,682 L216.4,678 L214.4,675 L213.6,671 L213,667 L215.6,664.4 L219,662 L223,660.4 L228,661 L232,659.6 L236.4,658 L241,659.6 L246,660.4 L251,660 L256,661 L261,662 L266,664.4 L270,667 L273,671 L277,674 L281,676.4 L284,679 L287,680 L290,677.6 L293,675 L297,674.4 L300,677 L304,675 L309,676 L314,677 L318,675 L321,672 L325,673 L328,675 L332,673.6 L336,672 L340,671.6 L345,670.4 L349,669.6 L349.6,667 L346,665.6 L343,663 L340,660 L337.6,657 L336,653 L334.4,650 L331,648 L328.4,645 L332,643 L333,639.6 L337,638 L342,639.6 L347,641 L352.4,642.4 L358,642 L362,644 L367,643 L372,641.6 L377,640 L382,638.4 L386,638 L388,641 L393,640.4 L398,639 L403,640 L408,640.4 L413,640 L418,639 L422.4,639.6 L424,636 L425.6,631 L426,626 L425,621 L425.6,616.4 L423,613 L419.6,610.4 L416.4,607 L415,603 L414,598 L415,593 L414.4,588 L413,583 L414,579 L418,577 L422,574.4 L427,574 L429.6,570 L430,565 L431.6,560 L434,556 L432.4,552 L430,548 L428,544 L427,540 L428,540 L427.6,534 L426,529 L423,526 L419,524.4 L415,522.4 L413,525.6 L409,526 L404,525 L402,520 L400,516 L397,513 L392,512 L388,514 L384.4,511.6 L386,507 L382,513 L379,513.6 L375,511 L370,509 L366,507 L362.4,503.6 L359,504.4 L356.4,502.4 L355.6,498 L353,495 L349,492.4 L345,490.4 L340,489 L336,487 L332,486 L328,486.4 L323,485.6 L319,488 L316.4,485 L314.4,481 L311,479 L307,479.6 L303,479 L299.6,480 L296,478 L293.6,475 L292.4,471 L291,467 L290.4,463 L289,459.6 L292,458 L295.6,456 L295,452.4 L292.4,449 L289,447.6 L293,445.6 L294.4,442 L292.4,439 L289,437 L290,433 L291,429 L292.4,425 L293.6,421 L297,419 L299.6,416 L298,412.4 L295,410 L298,408 L301.6,407 L303,403.6 L301,401.6 L306,401 L310,399 L313,395.6 L315.6,393 L319.6,392 L324,391 L328,389.6 L329.6,385 L327.6,383 L332.4,381 L335,384 L339,385.6 L344,387 L349,388.4 L354,390 L359,391.6 L362.4,393 L363,397 L365,401 L367,404.4 L371,406.4 L375,407.6 L379,408 L382,406 L386,404.4 L390,404 L394,405.6 L399,406.4 L403,405 L407,404 L411,402.4 L415,401.6 L420,402.4 L425,403 L430,402.4 L435,402 L439.6,401 L441.6,397 L441,392 L441.6,387 L442.4,382 L444,377 L445,372 L443,369 L441.6,365.6 L446,365.6 L451,370 L453.6,374 L456,377.6 L459,378 L461,375 L464,373 L465.6,370 L469,368 L470,365 L469,361.6 L467,359 L463.6,357 L460,355 L457,352 L456.4,349 L458.4,346 L459,343 L461,340 L463.6,337 L466,334 L468.4,331 L467.6,327.6 L470.4,325.6 L475,323 L479,320 L483,317 L487,313.6 L491,310 L494,309 L498,310.4 L499,307 L496,304 L495.6,301 L499,299.6 L503,298 L505,295 L509,291 L514,288 L518,290 L522,288 L525.6,286.4 L528,283 L530,279 L532.4,275.6 L529,273 L532,270 L536,267 L540,263.6Z" fill="none" stroke="#2a2e33" stroke-width="3.4" stroke-linejoin="round"/>
<text class="city" x="477" y="414.9" text-anchor="middle">榆林</text>
<text class="city" x="475" y="514.9" text-anchor="middle">延安</text>
<text class="city" x="471.7" y="654.3" text-anchor="middle">铜川</text>
<text class="city" x="530.8" y="676.9" text-anchor="middle">渭南</text>
<text class="city" x="410.4" y="686.4" text-anchor="middle">咸阳</text>
<text class="city" x="458" y="755.9" text-anchor="middle">西安</text>
<text class="city" x="285.5" y="737.9" text-anchor="middle">宝鸡</text>
<text class="city" x="366.7" y="742.9" text-anchor="middle">杨凌</text>
<text class="city" x="534" y="801.9" text-anchor="middle">商洛</text>
<text class="city" x="272" y="859.9" text-anchor="middle">汉中</text>
<text class="city" x="442" y="875.9" text-anchor="middle">安康</text>
<text x="794.6" y="561.3" textLength="73.5" lengthAdjust="spacingAndGlyphs" style="font-size:18px;fill:#111">单位:m/s</text>
<rect x="795.6" y="577.4" width="18" height="33" fill="#c810aa" stroke="#141450" stroke-width="1"/>
<rect x="795.6" y="610.4" width="18" height="33" fill="#a01a8c" stroke="#141450" stroke-width="1"/>
<rect x="795.6" y="643.4" width="18" height="33" fill="#461e8c" stroke="#141450" stroke-width="1"/>
<rect x="795.6" y="676.4" width="18" height="33" fill="#0f1e78" stroke="#141450" stroke-width="1"/>
<rect x="795.6" y="709.4" width="18" height="33" fill="#192d96" stroke="#141450" stroke-width="1"/>
<rect x="795.6" y="742.4" width="18" height="33" fill="#2341af" stroke="#141450" stroke-width="1"/>
<rect x="795.6" y="775.4" width="18" height="33" fill="#2d5fc8" stroke="#141450" stroke-width="1"/>
<rect x="795.6" y="808.4" width="18" height="33" fill="#3c7ddc" stroke="#141450" stroke-width="1"/>
<rect x="795.6" y="841.4" width="18" height="33" fill="#6b9de1" stroke="#141450" stroke-width="1"/>
<rect x="795.6" y="874.4" width="18" height="33" fill="#a0beeb" stroke="#141450" stroke-width="1"/>
<rect x="795.6" y="907.4" width="18" height="33" fill="#96d2c8" stroke="#141450" stroke-width="1"/>
<rect x="795.6" y="940.4" width="18" height="33" fill="#96e6aa" stroke="#141450" stroke-width="1"/>
<text x="820.7" y="618.7" class="lg">28.5</text>
<text x="820.7" y="651.7" class="lg">24.5</text>
<text x="820.7" y="684.7" class="lg">20.8</text>
<text x="820.7" y="717.7" class="lg">17.2</text>
<text x="820.7" y="750.7" class="lg">13.9</text>
<text x="820.7" y="783.7" class="lg">10.8</text>
<text x="820.7" y="816.7" class="lg">8</text>
<text x="820.7" y="849.7" class="lg">5.5</text>
<text x="820.7" y="882.7" class="lg">3.4</text>
<text x="820.7" y="915.7" class="lg">1.6</text>
<text x="820.7" y="948.7" class="lg">0.3</text>
<text x="820.7" y="981.7" class="lg">0</text>
</svg>
</body></html>
